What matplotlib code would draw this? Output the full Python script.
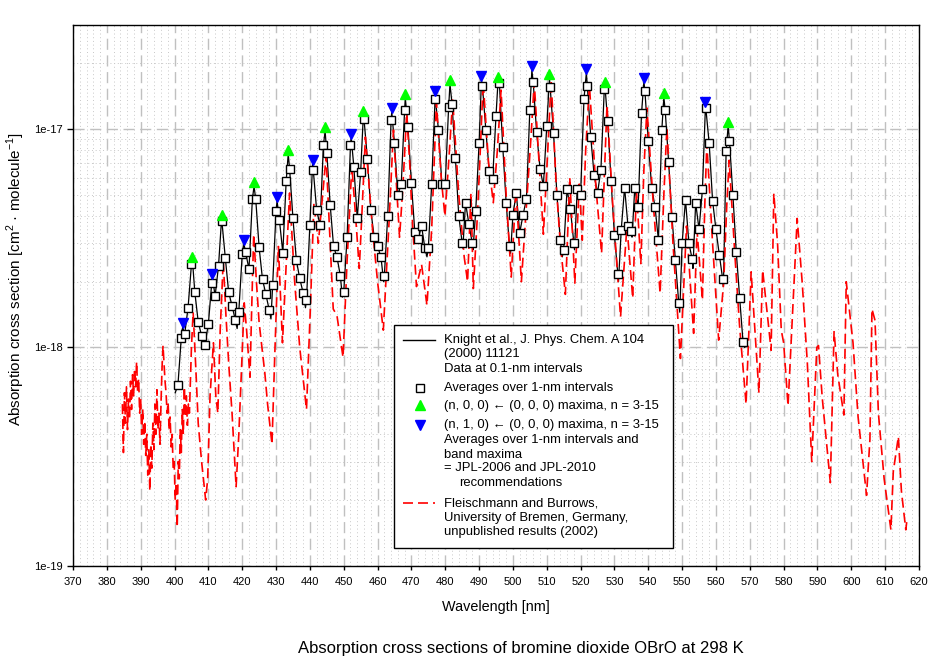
import numpy as np
import matplotlib
matplotlib.use('Agg')
from matplotlib import pyplot as plt
from matplotlib.lines import Line2D
from matplotlib.patches import Rectangle
from matplotlib.ticker import MultipleLocator, LogLocator, NullFormatter

plt.rcParams['font.family'] = ['Liberation Sans', 'DejaVu Sans']
plt.rcParams['mathtext.fontset'] = 'custom'
plt.rcParams['mathtext.rm'] = 'Liberation Sans'

UNIT = 1e-18  # all values below are in 1e-18 cm^2 molecule^-1

# Knight et al., averages over 1-nm intervals (401 ... 568 nm)
avg_wl = np.arange(401, 569)
avg_val = [
    0.67, 1.11, 1.15, 1.52, 2.40, 1.79, 1.31, 1.13, 1.03, 1.28,   # 401-410
    1.98, 1.72, 2.36, 3.78, 2.58, 1.79, 1.55, 1.33, 1.46, 2.67,   # 411-420
    2.74, 2.28, 4.77, 4.77, 2.87, 2.05, 1.75, 1.48, 1.93, 4.20,   # 421-430
    3.83, 2.72, 5.80, 6.60, 3.90, 2.51, 2.07, 1.78, 1.65, 3.63,   # 431-440
    6.50, 4.26, 3.63, 8.45, 7.80, 4.50, 2.90, 2.60, 2.13, 1.79,   # 441-450
    3.20, 8.50, 6.70, 3.90, 6.35, 11.1, 7.30, 4.26, 3.20, 2.90,   # 451-460
    2.60, 2.12, 4.00, 11.0, 8.60, 5.00, 5.60, 12.3, 10.2, 5.67,   # 461-470
    3.39, 3.15, 3.60, 2.84, 2.84, 5.63, 13.8, 9.90, 5.63, 5.63,   # 471-480
    12.6, 13.1, 7.40, 4.00, 3.00, 4.60, 3.67, 3.00, 4.20, 8.60,   # 481-490
    15.7, 9.90, 6.40, 5.90, 11.5, 16.2, 8.30, 4.60, 2.90, 4.05,   # 491-500
    5.10, 3.35, 4.05, 4.80, 12.3, 16.4, 9.70, 6.60, 5.50, 10.3,   # 501-510
    15.6, 9.60, 5.00, 3.10, 2.80, 5.30, 4.30, 3.00, 5.30, 5.00,   # 511-520
    13.8, 15.7, 9.20, 6.15, 5.10, 6.50, 15.3, 10.9, 5.80, 3.27,   # 521-530
    2.18, 3.45, 5.40, 3.60, 3.40, 5.35, 4.40, 11.8, 15.0, 8.80,   # 531-540
    5.40, 4.40, 3.10, 9.90, 12.2, 7.10, 3.95, 2.51, 1.60, 3.00,   # 541-550
    4.75, 3.00, 2.53, 4.60, 3.47, 5.30, 12.5, 8.60, 4.70, 3.47,   # 551-560
    2.65, 2.05, 7.90, 8.80, 5.00, 2.74, 1.69, 1.06,               # 561-568
]

# Knight et al., 0.1-nm data: band peaks and dips between the averages
knight_peak_wl = [402.4, 405.3, 411.2, 413.9, 420.5, 423.5, 430.3, 433.6, 440.8,
                  444.5, 452.2, 455.8, 464.2, 468.2, 477.0, 481.4, 490.7, 495.6,
                  505.6, 510.8, 521.7, 527.2, 538.7, 544.6, 556.9, 563.6]
knight_peak = [1.24, 2.5, 2.09, 3.87, 2.98, 5.48, 4.7, 7.7, 6.9,
               9.8, 9.2, 11.6, 12.0, 13.9, 14.3, 16.1, 16.8, 16.6,
               18.6, 17.1, 18.1, 15.7, 16.5, 14.0, 12.8, 10.4]
knight_dip_wl = [400.2, 408.5, 418.5, 428.5, 438.7, 449.6, 461.8, 474.6, 485.2,
                 488.2, 499.3, 514.6, 518.2, 531.2, 535.2, 549.3, 553.2, 562.2, 568.5]
knight_dip = [0.62, 1.00, 1.22, 1.35, 1.52, 1.70, 2.0, 2.6, 2.85,
              2.8, 2.7, 2.6, 2.8, 2.0, 3.2, 1.45, 2.3, 1.9, 1.0]

# band maxima
green_wl = [405.3, 413.9, 423.5, 433.6, 444.5, 455.8, 468.2, 481.4, 495.6,
            510.8, 527.2, 544.6, 563.6]
green_val = [2.60, 4.03, 5.71, 8.01, 10.2, 12.1, 14.5, 16.8, 17.3, 17.8, 16.4, 14.6, 10.8]
blue_wl = [402.4, 411.2, 420.5, 430.3, 440.8, 452.2, 464.2, 477.0, 490.7,
           505.6, 521.7, 538.7, 556.9]
blue_val = [1.29, 2.18, 3.10, 4.89, 7.19, 9.55, 12.45, 14.9, 17.5, 19.4, 18.9, 17.2, 13.3]

# Fleischmann and Burrows
red_wl = [
    384.6, 384.9, 385.2, 385.5, 385.8, 386.1, 386.4, 386.7, 387.0, 387.3,
    387.6, 387.9, 388.2, 388.5, 388.8, 389.1, 389.4, 389.7, 390.0, 390.3,
    390.6, 390.9, 391.2, 391.5, 391.8, 392.1, 392.4, 392.7, 393.0, 393.3,
    393.6, 393.9, 394.2, 394.5, 394.8, 395.1, 395.4, 395.7, 396.0, 396.3,
    396.6, 396.9, 397.2, 397.5, 397.8, 398.1, 398.4, 398.7, 399.0, 399.3,
    399.6, 399.9, 400.2, 400.5, 400.8, 401.1, 401.4, 401.7, 402.0, 402.3,
    402.6, 402.9, 403.2, 403.5, 403.8, 404.1, 404.4, 405.0, 405.5, 406.3,
    407.0, 408.0, 409.2, 409.8, 410.5, 411.5, 412.2, 412.8, 413.5, 414.4,
    415.2, 416.0, 417.0, 418.2, 419.0, 419.8, 420.6, 421.3, 422.3, 422.8,
    423.4, 424.2, 425.0, 426.0, 426.7, 427.5, 428.8, 429.6, 430.7, 431.9,
    433.0, 434.0, 435.5, 437.0, 439.0, 440.2, 441.2, 442.5, 443.5, 444.8,
    446.0, 446.9, 448.0, 449.8, 451.0, 452.4, 453.5, 454.6, 455.5, 456.4,
    457.5, 458.5, 460.0, 461.7, 463.3, 464.7, 465.6, 466.5, 467.5, 468.6,
    469.5, 470.2, 471.5, 473.0, 474.6, 476.0, 477.4, 478.8, 479.9, 481.0,
    482.2, 484.0, 485.6, 486.6, 487.6, 488.3, 489.5, 490.5, 491.2, 492.8,
    494.2, 495.4, 496.5, 498.0, 499.5, 500.9, 502.5, 504.0, 505.3, 506.3,
    507.5, 509.0, 510.3, 511.3, 512.8, 514.0, 515.5, 516.8, 518.3, 519.6,
    520.5, 521.5, 522.6, 524.5, 526.2, 527.0, 527.8, 529.5, 531.8, 533.7,
    535.4, 536.5, 537.8, 538.7, 539.6, 541.5, 543.5, 544.6, 545.5, 547.3,
    549.5, 551.3, 553.4, 554.4, 556.0, 556.7, 557.3, 559.0, 560.8, 562.3,
    563.2, 563.9, 565.5, 567.0, 568.9, 570.4, 572.7, 573.8, 576.3, 577.1,
    578.2, 579.3, 580.0, 581.3, 584.0, 585.5, 587.0, 588.3, 589.8, 590.3,
    591.4, 593.8, 594.9, 596.0, 597.8, 598.5, 600.5, 602.0, 604.5, 605.5,
    606.1, 607.0, 608.0, 609.7, 611.7, 612.4, 613.9, 614.8, 616.1, 616.4,
]
red_val = [
    0.55, 0.33, 0.62, 0.45, 0.66, 0.42, 0.58, 0.47, 0.70, 0.52,
    0.75, 0.60, 0.80, 0.66, 0.86, 0.62, 0.72, 0.50, 0.58, 0.40,
    0.52, 0.36, 0.46, 0.32, 0.40, 0.26, 0.34, 0.22, 0.36, 0.28,
    0.45, 0.34, 0.55, 0.40, 0.64, 0.42, 0.50, 0.36, 0.55, 0.80,
    1.02, 0.85, 0.70, 0.62, 0.50, 0.56, 0.42, 0.48, 0.35, 0.40,
    0.28, 0.30, 0.20, 0.24, 0.15, 0.30, 0.25, 0.42, 0.33, 0.52,
    0.40, 0.66, 0.48, 0.60, 0.44, 0.55, 0.50, 1.00, 1.45, 0.80,
    0.45, 0.30, 0.20, 0.25, 0.60, 1.05, 0.60, 0.50, 1.20, 2.50,
    1.40, 0.85, 0.50, 0.23, 0.40, 0.80, 1.60, 1.20, 0.73, 1.50,
    3.30, 2.00, 1.30, 0.95, 0.76, 0.55, 0.36, 0.90, 2.90, 1.05,
    2.40, 5.10, 2.00, 1.00, 0.52, 1.60, 4.60, 3.00, 4.50, 7.50,
    3.00, 1.50, 1.40, 0.90, 2.50, 6.80, 4.00, 2.30, 4.50, 9.20,
    5.50, 3.50, 2.00, 1.20, 3.50, 9.90, 5.50, 3.20, 5.50, 11.8,
    7.00, 4.00, 1.90, 2.40, 1.56, 3.50, 13.3, 6.00, 4.00, 7.00,
    13.6, 5.00, 2.60, 2.00, 5.10, 1.86, 4.00, 9.00, 16.5, 7.00,
    4.60, 8.00, 15.1, 5.00, 2.10, 5.30, 2.00, 4.50, 9.00, 16.4,
    8.00, 3.30, 8.00, 16.8, 5.50, 3.00, 1.75, 6.00, 1.97, 5.60,
    3.10, 8.00, 15.9, 5.50, 2.70, 6.00, 12.9, 4.50, 1.38, 3.60,
    1.68, 5.26, 2.42, 6.50, 12.5, 4.50, 1.77, 5.00, 10.2, 3.00,
    0.89, 3.60, 1.16, 3.45, 1.65, 4.50, 8.60, 3.00, 1.08, 2.00,
    4.50, 7.20, 2.79, 1.24, 0.55, 2.22, 0.62, 2.26, 0.97, 5.07,
    3.00, 1.20, 1.05, 0.54, 3.90, 1.97, 0.85, 0.30, 1.00, 1.02,
    0.59, 0.24, 1.18, 0.75, 0.49, 2.00, 1.05, 0.48, 0.21, 0.38,
    1.50, 1.33, 0.50, 0.25, 0.146, 0.27, 0.39, 0.22, 0.146, 0.16,
]

# join 0.1-nm line points
k_wl = np.concatenate([avg_wl, knight_peak_wl, knight_dip_wl])
k_val = np.concatenate([avg_val, knight_peak, knight_dip])
order = np.argsort(k_wl, kind='stable')
k_wl = k_wl[order]
k_val = k_val[order] * UNIT

W, H = 944, 663
fig = plt.figure(figsize=(W / 100, H / 100), dpi=100)
ax = fig.add_axes([73 / W, 1 - 565.7 / H, (919 - 73) / W, (565.7 - 25) / H])

ax.plot(k_wl, k_val, color='black', lw=0.9, zorder=3)
ax.plot(red_wl, np.array(red_val) * UNIT, color='#ff0000', lw=1.2,
        ls=(0, (6, 3)), zorder=4)
ax.plot(avg_wl, np.array(avg_val) * UNIT, ls='none', marker='s', ms=5.5,
        mfc='white', mec='black', mew=1.0, zorder=5)
ax.plot(green_wl, np.array(green_val) * UNIT, ls='none', marker='^', ms=7,
        color='#00ff00', zorder=6)
ax.plot(blue_wl, np.array(blue_val) * UNIT, ls='none', marker='v', ms=7,
        color='#0000ff', zorder=6)

ax.set_yscale('log')
ax.set_xlim(370, 620)
ax.set_ylim(1e-19, 3e-17)
ax.xaxis.set_major_locator(MultipleLocator(10))
ax.xaxis.set_minor_locator(MultipleLocator(2))
ax.set_yticks([1e-19, 1e-18, 1e-17])
ax.set_yticklabels(['1e-19', '1e-18', '1e-17'])
ax.yaxis.set_minor_locator(LogLocator(base=10, subs=np.arange(2, 10)))
ax.yaxis.set_minor_formatter(NullFormatter())
ax.tick_params(which='major', direction='out', length=4.5, width=1,
               labelsize=8, pad=3)
ax.tick_params(axis='x', which='major', length=3, pad=5)
ax.tick_params(which='minor', length=0)
ax.grid(which='major', color='#c0c0c0', lw=1, ls=(0, (8, 4)))
ax.grid(which='minor', color='#c8c8c8', lw=0.7, ls=(0, (1, 2.8)))
ax.set_axisbelow(True)
for s in ax.spines.values():
    s.set_linewidth(1)


def fx(px):
    return px / W


def fy(py):
    return 1 - py / H


fig.text(fx(496), fy(607), 'Wavelength [nm]', ha='center', va='center', fontsize=10.4)
fig.text(fx(16), fy(279), r'Absorption cross section [cm$^{2}$ · molecule$^{-1}$]',
         rotation=90, ha='center', va='center', fontsize=11)
fig.text(fx(521), fy(648), 'Absorption cross sections of bromine dioxide OBrO at 298 K',
         ha='center', va='center', fontsize=12)

# legend box
fig.add_artist(Rectangle((fx(394), fy(548)), (673 - 394) / W, (548 - 325) / H,
                         transform=fig.transFigure, facecolor='white',
                         edgecolor='black', lw=1, zorder=10))
fig.add_artist(Line2D([fx(403), fx(435)], [fy(340), fy(340)], transform=fig.transFigure,
                      color='black', lw=1, zorder=11))
fig.add_artist(Line2D([fx(420)], [fy(388)], transform=fig.transFigure, ls='none',
                      marker='s', ms=5.5, mfc='white', mec='black', mew=1, zorder=11))
fig.add_artist(Line2D([fx(420)], [fy(405)], transform=fig.transFigure, ls='none',
                      marker='^', ms=7, color='#00ff00', zorder=11))
fig.add_artist(Line2D([fx(420)], [fy(425)], transform=fig.transFigure, ls='none',
                      marker='v', ms=7, color='#0000ff', zorder=11))
fig.add_artist(Line2D([fx(403), fx(435)], [fy(503), fy(503)], transform=fig.transFigure,
                      color='#ff0000', lw=1.2, ls=(0, (6, 3)), zorder=11))

legend_lines = [
    (444, 340, 'Knight et al., J. Phys. Chem. A 104'),
    (444, 354.5, '(2000) 11121'),
    (444, 369.5, 'Data at 0.1-nm intervals'),
    (444, 388, 'Averages over 1-nm intervals'),
    (444, 406.5, '(n, 0, 0) \u2190 (0, 0, 0) maxima, n = 3-15'),
    (444, 425, '(n, 1, 0) \u2190 (0, 0, 0) maxima, n = 3-15'),
    (444, 439.5, 'Averages over 1-nm intervals and'),
    (444, 454.5, 'band maxima'),
    (444, 468, '= JPL-2006 and JPL-2010'),
    (459, 483.5, 'recommendations'),
    (444, 503, 'Fleischmann and Burrows,'),
    (444, 518, 'University of Bremen, Germany,'),
    (444, 532, 'unpublished results (2002)'),
]
for x, y, t in legend_lines:
    fig.text(fx(x), fy(y), t, ha='left', va='center', fontsize=9.4, zorder=12)

fig.savefig('out.png', dpi=100)
